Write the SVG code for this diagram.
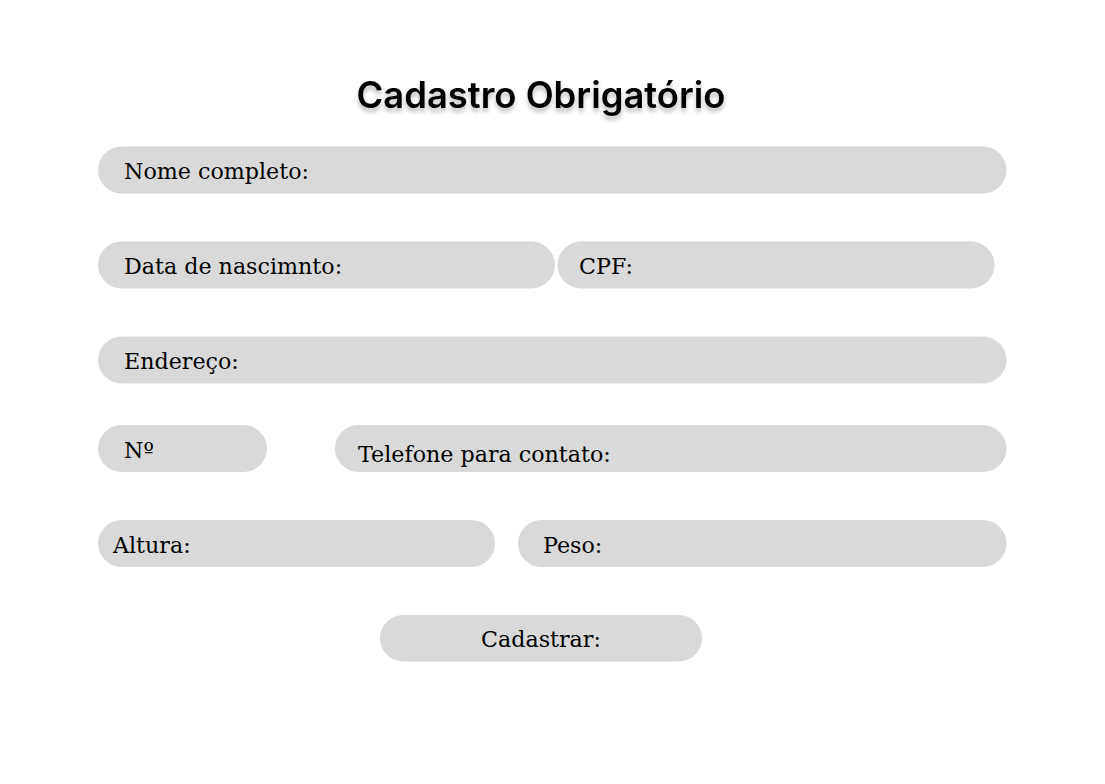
<svg xmlns="http://www.w3.org/2000/svg" width="1105" height="784" viewBox="0 0 1105 784">
<defs>
<style>
.f{fill:#d9d9d9}
.t{font-family:"DejaVu Serif","Liberation Serif",serif;font-size:22.2px;fill:#000}
.h{font-family:Inter,Roboto,"Liberation Sans",sans-serif;font-size:36.4px;font-weight:600;fill:#000}
</style>
<filter id="sh" x="-10%" y="-30%" width="120%" height="170%">
<feDropShadow dx="0" dy="4" stdDeviation="2" flood-color="#000" flood-opacity="0.25"/>
</filter>
</defs>
<rect width="1105" height="784" fill="#fff"/>
<g id="title"><text class="h" x="541" y="108" text-anchor="middle" filter="url(#sh)">Cadastro Obrigatório</text></g>
<g id="nome"><rect class="f" x="98" y="146.5" width="908.5" height="47" rx="23.5"/><text class="t" x="124" y="179">Nome completo:</text></g>
<g id="nascimento"><rect class="f" x="98" y="241.5" width="457" height="47" rx="23.5"/><text class="t" x="124" y="274">Data de nascimnto:</text></g>
<g id="cpf"><rect class="f" x="557.5" y="241.5" width="437" height="47" rx="23.5"/><text class="t" x="579" y="274">CPF:</text></g>
<g id="endereco"><rect class="f" x="98" y="336.5" width="908.5" height="47" rx="23.5"/><text class="t" x="124" y="369">Endereço:</text></g>
<g id="numero"><rect class="f" x="98" y="425" width="169" height="47" rx="23.5"/><text class="t" x="124" y="458">Nº</text></g>
<g id="telefone"><rect class="f" x="335" y="425" width="671.5" height="47" rx="23.5"/><text class="t" x="358" y="462">Telefone para contato:</text></g>
<g id="altura"><rect class="f" x="98" y="520" width="397" height="47" rx="23.5"/><text class="t" x="113" y="553">Altura:</text></g>
<g id="peso"><rect class="f" x="518" y="520" width="488.5" height="47" rx="23.5"/><text class="t" x="543" y="553">Peso:</text></g>
<g id="cadastrar"><rect class="f" x="380" y="615" width="322" height="46.5" rx="23.25"/><text class="t" x="541" y="647" text-anchor="middle">Cadastrar:</text></g>
<g id="connectors"/>
</svg>
